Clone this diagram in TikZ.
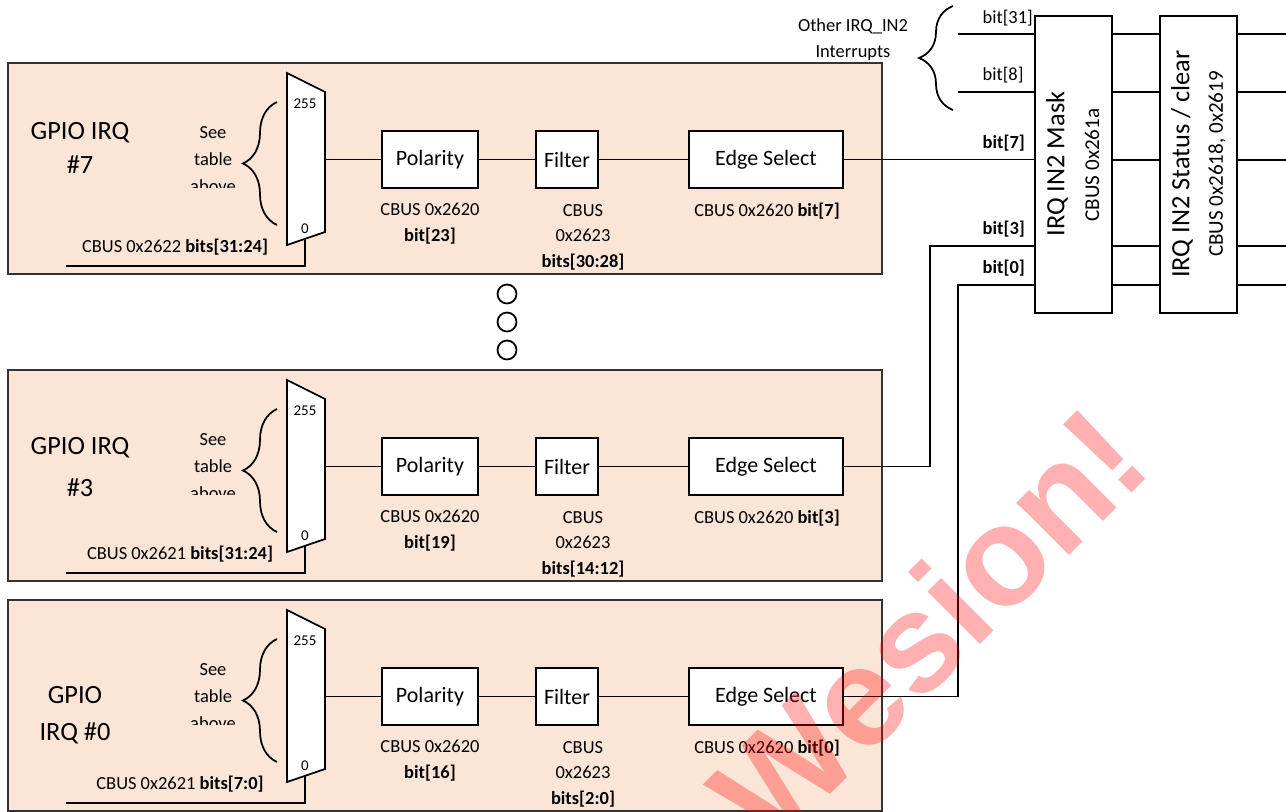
\documentclass[tikz,border=0pt]{standalone}
\usepackage{fontspec}
\setmainfont{Carlito}
\newfontfamily\wmfont{Liberation Sans}
\usetikzlibrary{decorations.pathreplacing}
\definecolor{panelfill}{RGB}{251,229,214}

\begin{document}
\begin{tikzpicture}[x=0.02cm, y=-0.02cm, line width=1pt,
    font=\fontsize{10.5}{14.5}\selectfont,
    panel/.style={draw=black!80, fill=panelfill},
    blk/.style={draw, fill=white, inner sep=0pt, minimum height=1.14cm, font=\fontsize{12.5}{15}\selectfont},
    regbox/.style={draw, fill=white, inner sep=0pt, minimum width=1.54cm, minimum height=5.94cm},
    bigtxt/.style={font=\fontsize{15}{18}\selectfont},
    midtxt/.style={font=\fontsize{12}{14}\selectfont},
    lbrace/.style={decorate, decoration={brace, amplitude=0.68cm}}]
  \useasboundingbox (0,0) rectangle (1286,812);
  % 各GPIO IRQ
  \foreach \i/\dy/\tx/\ty/\title/\sx/\sel/\pb/\fb in {
      7/0/80/148/{GPIO IRQ\\\#7}/175/{CBUS 0x2622 \textbf{bits[31:24]}}/23/30:28,
      3/307/80/160/{GPIO IRQ\\[4pt]\#3}/180/{CBUS 0x2621 \textbf{bits[31:24]}}/19/14:12,
      0/537/75/178/{GPIO\\[1.5pt]IRQ \#0}/180/{CBUS 0x2621 \textbf{bits[7:0]}}/16/2:0}{
    \draw[panel] (8,63+\dy) rectangle (882,274+\dy);
    \node[align=center, font=\fontsize{15}{19.5}\selectfont] (title\i) at (\tx,\ty+\dy) {\title};
    % セレクタ
    \draw[fill=white] (287,73+\dy) -- (325,92+\dy) -- (325,232+\dy) -- (287,245+\dy) -- cycle;
    \node[font=\fontsize{8.5}{10}\selectfont] at (305,104+\dy) {255};
    \node[font=\fontsize{8.5}{10}\selectfont] at (305,229+\dy) {0};
    \coordinate (mux\i) at (325,159.5+\dy);
    \coordinate (sel\i) at (305,239+\dy);
    \draw (sel\i) |- (66,266+\dy);
    \node at (\sx,247+\dy) {\sel};
    \draw[lbrace] (277,225+\dy) -- (277,102+\dy);
    \begin{scope}
      \clip (180,115+\dy) rectangle (250,187+\dy);
      \node[align=center, font=\fontsize{10.5}{15.4}\selectfont] at (213,160+\dy) {See\\table\\above};
    \end{scope}
    % ブロック
    \node[blk, minimum width=1.92cm] (pol\i) at (430,159.5+\dy) {Polarity};
    \node[blk, minimum width=1.24cm] (fil\i) at (567,159.5+\dy) {Filter};
    \node[blk, minimum width=3.08cm] (edge\i) at (766,159.5+\dy) {Edge Select};
    \draw (mux\i) -- (pol\i) -- (fil\i) -- (edge\i);
    \node[align=center] at (430,223.5+\dy) {CBUS 0x2620\\\textbf{bit[\pb]}};
    \node[align=center] at (583,237+\dy) {CBUS\\0x2623\\\textbf{bits[\fb]}};
    \node at (767,211+\dy) {CBUS 0x2620 \textbf{bit[\i]}};
  }
  % 省略
  \foreach \y in {294,322,350}
    \draw (507,\y) circle (0.19cm);
  % マスクとステータス
  \node[regbox] (mask) at (1073.5,164.5) {};
  \node[regbox] (stat) at (1198.5,164.5) {};
  \node[bigtxt, rotate=90] at (1057,164) {IRQ IN2 Mask};
  \node[midtxt, rotate=90] at (1092,165) {CBUS 0x261a};
  \node[bigtxt, rotate=90] at (1182,164) {IRQ IN2 Status / clear};
  \node[midtxt, rotate=90] at (1217,164) {CBUS 0x2618, 0x2619};
  \foreach \y in {34,92,160,246,285}{
    \draw (mask.east |- 0,\y) -- (stat.west |- 0,\y);
    \draw (stat.east |- 0,\y) -- (1286,\y);
  }
  % 入力
  \foreach \y in {34,92}
    \draw (958,\y) -- (mask.west |- 0,\y);
  \draw (edge7.east) -- (edge7.east -| mask.west);
  \draw (edge3.east) -| (930,246) -- (mask.west |- 0,246);
  \draw (edge0.east) -| (958,285) -- (mask.west |- 0,285);
  \node[anchor=west] at (976,18) {bit[31]};
  \node[anchor=west] at (976,75) {bit[8]};
  \node[anchor=west] at (976,143) {\textbf{bit[7]}};
  \node[anchor=west] at (976,229) {\textbf{bit[3]}};
  \node[anchor=west] at (976,268) {\textbf{bit[0]}};
  \draw[lbrace] (953,110) -- (953,6);
  \node[align=center, font=\fontsize{10.5}{14.8}\selectfont] at (853,40) {Other IRQ\_IN2\\Interrupts};
  % 透かし
  \node[rotate=45, text=red, opacity=0.31, font=\wmfont\bfseries\fontsize{80}{80}\selectfont] at (928,626) {Wesion!};
\end{tikzpicture}
\end{document}
